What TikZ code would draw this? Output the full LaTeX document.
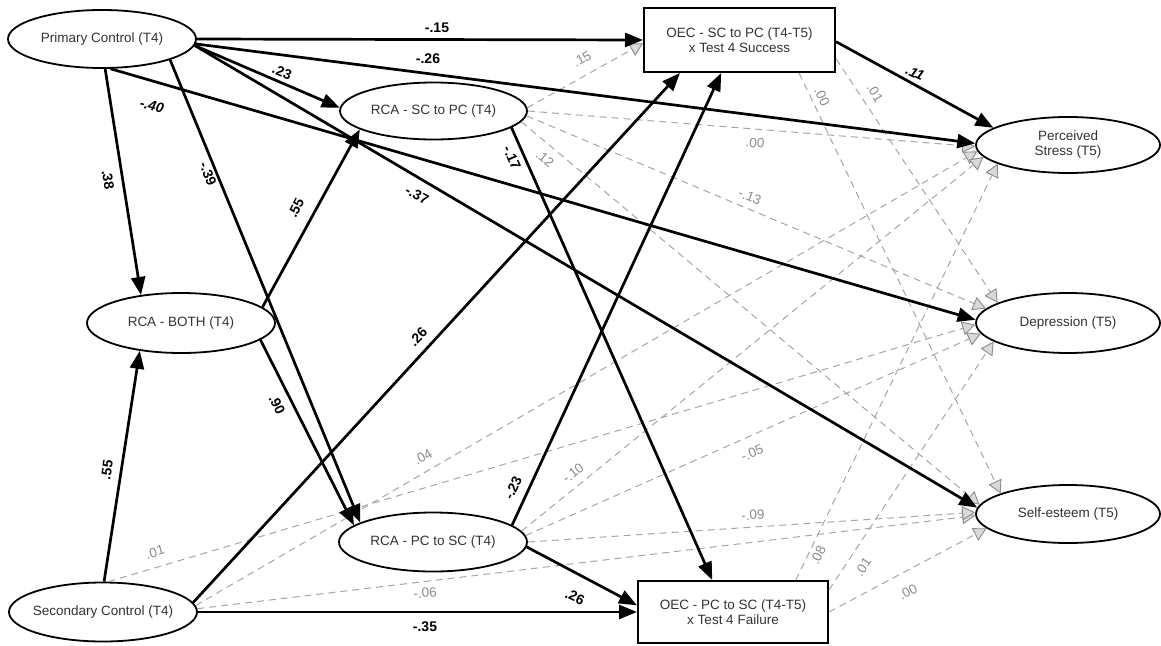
\documentclass[tikz,border=0pt]{standalone}
\usepackage{fontspec}
\setmainfont{Liberation Sans}
\usetikzlibrary{shapes.geometric,arrows.meta}
\newcommand{\zw}[1]{\makebox[0pt]{#1}}
\begin{document}
\begin{tikzpicture}[x=1pt,y=-1pt,
  ell/.style={ellipse, draw=black, line width=1.8pt, fill=white, inner sep=0pt,
    font=\fontsize{13.5}{15.5}\selectfont, text=black!80},
  box/.style={rectangle, draw=black, line width=2pt, fill=white, inner sep=0pt,
    font=\fontsize{13.5}{14.5}\selectfont, text=black!80, align=center},
  sol/.style={line width=2.7pt, draw=black, -{Triangle[length=18pt,width=14pt]}},
  das/.style={line width=1pt, draw=black!35, dash pattern=on 7pt off 5pt,
    -{Triangle[length=13pt,width=14pt,fill=black!15,color=black!45,line width=0.9pt]}},
  slab/.style={font=\fontsize{14}{15}\selectfont\bfseries, text=black, inner sep=0pt},
  dlab/.style={font=\fontsize{13.5}{15}\selectfont, text=black!45, inner sep=0pt}
]
\useasboundingbox (0,0) rectangle (1161,645);
\fill[white] (0,0) rectangle (1161,645);

% nodes
\node[ell, minimum width=188pt, minimum height=58pt] (PC) at (102,39) {\zw{Primary Control (T4)}};
\node[ell, minimum width=187pt, minimum height=57pt] (RSC) at (433.5,111) {\zw{RCA - SC to PC (T4)}};
\node[box, minimum width=191pt, minimum height=64pt] (OSC) at (739.5,40) {OEC - SC to PC (T4-T5)\\x Test 4 Success};
\node[ell, minimum width=184pt, minimum height=56pt] (PS) at (1068,145) {\zw{\begin{tabular}{@{}c@{}}Perceived\\Stress (T5)\end{tabular}}};
\node[ell, minimum width=188pt, minimum height=60pt] (RB) at (181,323) {\zw{RCA - BOTH (T4)}};
\node[ell, minimum width=184pt, minimum height=60pt] (DEP) at (1068,323) {\zw{Depression (T5)}};
\node[ell, minimum width=188pt, minimum height=59pt] (RPC) at (433,542) {\zw{RCA - PC to SC (T4)}};
\node[box, minimum width=190pt, minimum height=62pt] (OPC) at (733,612) {OEC - PC to SC (T4-T5)\\x Test 4 Failure};
\node[ell, minimum width=184pt, minimum height=58pt] (SE) at (1068,514) {\zw{Self-esteem (T5)}};
\node[ell, minimum width=188pt, minimum height=59pt] (SC) at (103,612) {\zw{Secondary Control (T4)}};

% dashed (non-significant) paths
\draw[das] (RSC.2) -- (OSC.182.4);
\draw[das] (RSC.0) -- (PS.181.2);
\draw[das] (RSC.-3) -- (DEP.170.5);
\draw[das] (RSC.-7) -- (SE.174.5);
\draw[das] (OSC.-11.8) -- (DEP.164.5);
\draw[das] (OSC.-29.1) -- (SE.163.3);
\draw[das] (SC.4.3) -- (PS.184.9);
\draw[das] (SC.80.5) -- (DEP.181);
\draw[das] (SC.2.4) -- (SE.181);
\draw[das] (RPC.7.6) -- (PS.188.8);
\draw[das] (RPC.4.3) -- (DEP.187.6);
\draw[das] (RPC.0) -- (SE.179);
\draw[das] (OPC.27.7) -- (PS.195.3);
\draw[das] (OPC.13) -- (DEP.194.8);
\draw[das] (OPC.east) -- (SE.190.9);

% solid (significant) paths
\draw[sol] (PC.east) -- (OSC.west);
\draw[sol] (PC.-3) -- (PS.179.4);
\draw[sol] (PC.-4.3) -- (RSC.178);
\draw[sol] (PC.-74.6) -- (DEP.178);
\draw[sol] (PC.-4.8) -- (SE.176);
\draw[sol] (PC.-84) -- (RB.145.7);
\draw[sol] (PC.-17) -- (RPC.165.8);
\draw[sol] (RB.11) -- (RSC.194);
\draw[sol] (RB.-12) -- (RPC.168.4);
\draw[sol] (SC.88) -- (RB.214);
\draw[sol] (SC.6.3) -- (OSC.209.5);
\draw[sol] (SC.east) -- (OPC.west);
\draw[sol] (RSC.-12.5) -- (OPC.123.7);
\draw[sol] (RPC.12.1) -- (OSC.241.3);
\draw[sol] (RPC.-3.7) -- (OPC.176.4);
\draw[sol] (OSC.-1.2) -- (PS.167);

% solid labels
\node[slab] (l1) at (437,28) {-.15};
\node[slab] (l2) at (428,59) {-.26};
\node[slab, rotate=-22] (l3) at (282,72) {.23};
\node[slab, rotate=-14] (l4) at (152,106) {\itshape -.40};
\node[slab, rotate=-81] (l5) at (108,180) {.38};
\node[slab, rotate=-68] (l6) at (208,174) {-.39};
\node[slab, rotate=63] (l7) at (296,208) {.55};
\node[slab, rotate=-28] (l8) at (417,195) {-.37};
\node[slab, rotate=-66] (l9) at (512,158) {-.17};
\node[slab, rotate=-25] (l10) at (915,73) {\itshape .11};
\node[slab, rotate=47] (l11) at (418,337) {.26};
\node[slab, rotate=-64] (l12) at (277,405) {.90};
\node[slab, rotate=81] (l13) at (107,470) {.55};
\node[slab, rotate=65] (l14) at (513,488) {-.23};
\node[slab, rotate=-25] (l15) at (575,597) {.26};
\node[slab] (l16) at (425,627) {-.35};

% dashed labels
\node[dlab, rotate=29] (d1) at (582,59) {.15};
\node[dlab, rotate=-4] (d2) at (755,143) {.00};
\node[dlab, rotate=-40] (d3) at (545,159) {.12};
\node[dlab, rotate=-23] (d4) at (750,197) {-.13};
\node[dlab, rotate=-65] (d5) at (822,97) {.00};
\node[dlab, rotate=-58] (d6) at (875,93) {.01};
\node[dlab, rotate=30] (d7) at (423,457) {.04};
\node[dlab, rotate=16] (d8) at (155,552) {.01};
\node[dlab, rotate=5] (d9) at (425,593) {-.06};
\node[dlab, rotate=39] (d10) at (573,473) {-.10};
\node[dlab, rotate=24] (d11) at (752,453) {-.05};
\node[dlab, rotate=4] (d12) at (753,515) {-.09};
\node[dlab, rotate=64] (d13) at (818,555) {.08};
\node[dlab, rotate=57] (d14) at (863,567) {.01};
\node[dlab, rotate=28] (d15) at (908,592) {.00};
\end{tikzpicture}
\end{document}
